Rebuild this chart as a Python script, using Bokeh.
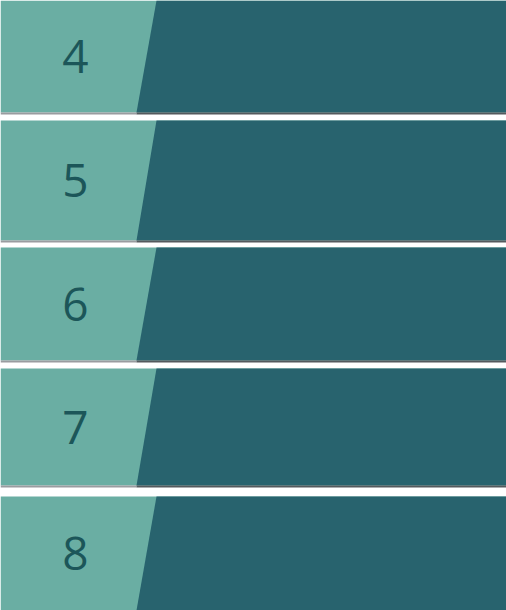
from bokeh.plotting import figure
from bokeh.models import Range1d, ColumnDataSource
from bokeh.core.properties import value
from bokeh.embed import file_html
from bokeh.resources import INLINE

labels = ["4", "5", "6", "7", "8"]
row_top = [0, 120, 247, 368, 496]
row_bottom = [112, 240, 360, 485, 610]

LIGHT = "#6aaea3"
DARK = "#28636e"
TEXT = "#1c5659"
W, H = 506, 610

p = figure(width=W, height=H, output_backend="svg", toolbar_location=None,
           x_range=Range1d(0, W), y_range=Range1d(H, 0), min_border=0)
p.axis.visible = False
p.grid.visible = False
p.outline_line_color = None
p.background_fill_color = "white"

# light blocks on the left
p.quad(left=0, right=W, top=row_top, bottom=row_bottom, fill_color=LIGHT, line_color=None)

# slanted dark blocks
xs, ys = [], []
for t, b in zip(row_top, row_bottom):
    xs.append([156, W, W, 136])
    ys.append([t, t, b, b])
p.patches(xs, ys, fill_color=DARK, line_color=None)

# thin shadows under the gaps
for b in row_bottom[:-1]:
    p.segment(x0=0, y0=b + 1, x1=136, y1=b + 1, line_color="#9a9ca0", line_width=2)
    p.segment(x0=136, y0=b + 1, x1=W, y1=b + 1, line_color="#555a5e", line_width=2)

src = ColumnDataSource(dict(x=[75] * len(labels),
                            y=[(t + b) / 2 for t, b in zip(row_top, row_bottom)],
                            t=labels))
p.text(x="x", y="y", text="t", source=src, text_align="center", text_baseline="middle",
       text_font=value("Open Sans"), text_font_size="46px", text_color=TEXT)

open("out.html", "w").write(file_html(p, INLINE))
